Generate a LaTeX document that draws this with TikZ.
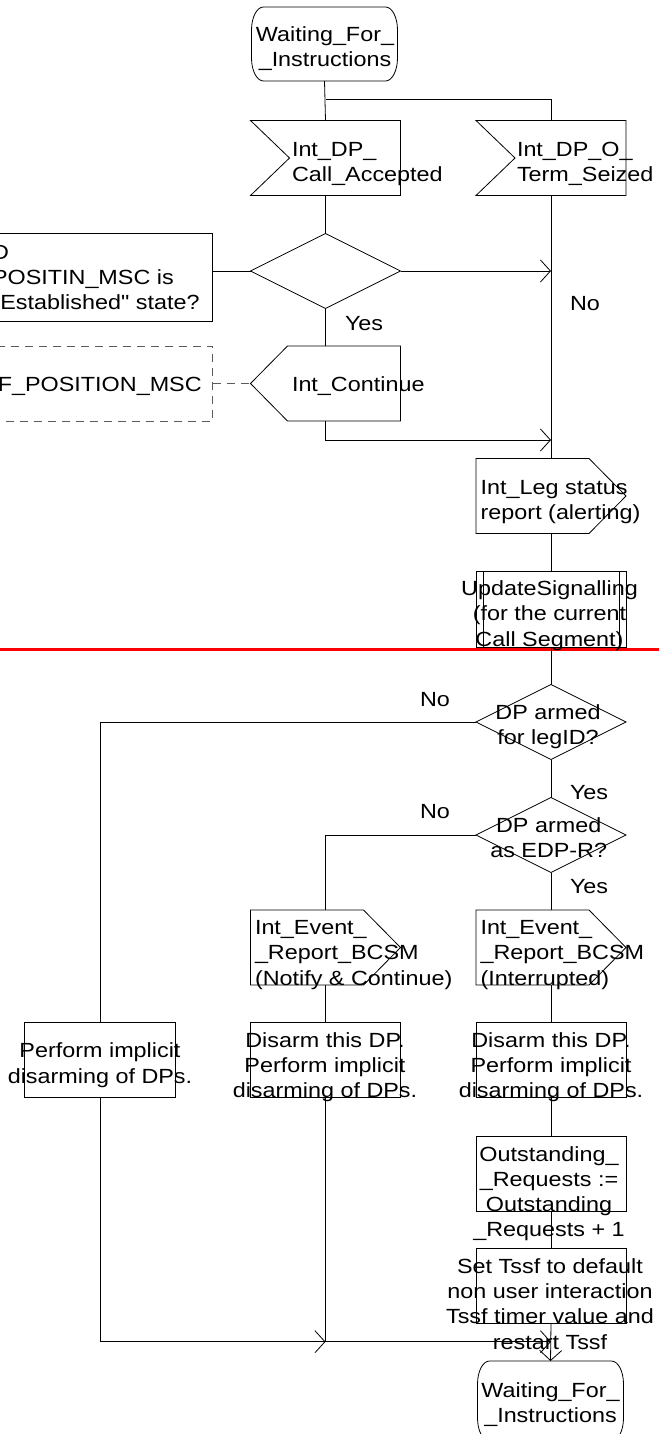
\documentclass[tikz,border=0pt]{standalone}
\usepackage{fontspec}
\setmainfont{Liberation Sans}[FakeStretch=1.14]
% same face without the TeX quote mapping, for straight quotes
\newfontfamily\plainquotes{Liberation Sans}[FakeStretch=1.14]
\usetikzlibrary{arrows.meta}
\definecolor{breakred}{RGB}{255,0,0}
\definecolor{notegray}{RGB}{90,90,90}
% SDL state symbol: flat top and bottom, curved sides
\newcommand\sdlstate[1]{%
  \draw ([xshift=-12pt]#1.north east)
    arc[start angle=90,end angle=0,x radius=12pt,y radius=23pt]
    -- ([yshift=23pt]#1.south east)
    arc[start angle=0,end angle=-90,x radius=12pt,y radius=23pt]
    -- ([xshift=12pt]#1.south west)
    arc[start angle=270,end angle=180,x radius=12pt,y radius=23pt]
    -- ([yshift=-23pt]#1.north west)
    arc[start angle=180,end angle=90,x radius=12pt,y radius=23pt]
    -- cycle;}
\begin{document}
\begin{tikzpicture}[x=1pt,y=-1pt,
  line width=0.8pt,
  font=\fontsize{20.5}{25.3}\selectfont,
  shp/.style={draw=none,inner sep=0pt,outer sep=0pt,minimum width=150pt,minimum height=75pt},
  box/.style={shp,draw},
  state/.style={shp,minimum width=146pt},
  txt/.style={inner sep=0pt,outer sep=0pt},
  arr/.style={-{Straight Barb[length=10pt,width=22pt]}},
  note/.style={draw=notegray,dash pattern=on 8pt off 6pt}]
\useasboundingbox (0,0) rectangle (659,1434);

% ---------- shapes ----------
\node[state,minimum height=74pt] (ws) at (324.5,44) {};
\node[shp] (in1) at (325.5,158) {};
\node[shp] (in2) at (551,158) {};
\node[shp] (d0) at (325.5,271) {};
\node[box,minimum width=263pt,minimum height=88pt] (q) at (81.35,277.2) {};
\node[shp] (out1) at (325.5,383.5) {};
\node[shp,note,minimum width=263pt] (dsh) at (81.35,383.5) {};
\node[shp] (leg) at (551,496) {};
\node[box,minimum height=76pt] (upd) at (551,609) {};
\node[shp] (d1) at (551,722) {};
\node[shp] (d2) at (551,835) {};
\node[shp] (ev1) at (325.5,947.5) {};
\node[shp] (ev2) at (551,947.5) {};
\node[box,minimum width=151pt] (perf) at (100,1060) {};
\node[box] (dis1) at (325.5,1060) {};
\node[box] (dis2) at (551,1060) {};
\node[box] (outs) at (551,1173.5) {};
\node[box] (set) at (551,1286) {};
\node[state,minimum height=80pt] (we) at (550.5,1401) {};

% states
\sdlstate{ws}
\sdlstate{we}
% input signals (notch on the left)
\foreach \n in {in1,in2}
  \draw (\n.north west) -- (\n.north east) -- (\n.south east) -- (\n.south west)
        -- ([xshift=39pt]\n.west) -- cycle;
% output signal pointing left
\draw (out1.west) -- ([xshift=37pt]out1.north west) -- (out1.north east)
      -- (out1.south east) -- ([xshift=37pt]out1.south west) -- cycle;
% output signals pointing right
\foreach \n in {leg,ev1,ev2}
  \draw (\n.north west) -- ([xshift=-37pt]\n.north east) -- (\n.east)
        -- ([xshift=-37pt]\n.south east) -- (\n.south west) -- cycle;
% decisions
\foreach \n in {d0,d1,d2}
  \draw (\n.north) -- (\n.east) -- (\n.south) -- (\n.west) -- cycle;
% procedure call bars
\draw ([xshift=7pt]upd.north west) -- ([xshift=7pt]upd.south west);
\draw ([xshift=-7pt]upd.north east) -- ([xshift=-7pt]upd.south east);

% page break marker
\fill[breakred] (0,648.3) rectangle (659,650.7);

% ---------- texts ----------
\node[txt,align=center] (wst) at (325,48.5) {Waiting\_For\_\\\_Instructions};
\node[txt,align=left,anchor=west] (in1t) at (292,163.9) {Int\_DP\_\\Call\_Accepted};
\node[txt,align=left,anchor=west] (in2t) at (517,163.9) {Int\_DP\_O\_\\Term\_Seized};
\node[txt,align=left,anchor=west] (qt) at (-8,277.5) {D\\POSITIN\_MSC is\\{\plainquotes "Established" state?}};
\node[txt,anchor=base east] (dsht) at (201.7,391.7) {F\_POSITION\_MSC};
\node[txt,anchor=base west] (out1t) at (292,391.7) {Int\_Continue};
\node[txt,anchor=base west] (no0) at (570,310.7) {No};
\node[txt,anchor=base west] (yes0) at (345,330) {Yes};
\node[txt,align=left,anchor=west] (legt) at (480.7,502.2) {Int\_Leg status\\report (alerting)};
\node[txt,align=center] (updt) at (549.5,615.6) {UpdateSignalling\\(for the current\\Call Segment)};
\node[txt,align=center] (d1t) at (548,726.6) {DP armed\\for legID?};
\node[txt,align=center] (d2t) at (548.7,837.5) {DP armed\\as EDP-R?};
\node[txt,anchor=base west] (no1) at (420,706) {No};
\node[txt,anchor=base west] (no2) at (420,818.3) {No};
\node[txt,anchor=base west] (yes1) at (570,799) {Yes};
\node[txt,anchor=base west] (yes2) at (570,893.3) {Yes};
\node[txt,align=left,anchor=west] (ev1t) at (255,954.8) {Int\_Event\_\\\_Report\_BCSM\\(Notify \& Continue)};
\node[txt,align=left,anchor=west] (ev2t) at (480.5,954.8) {Int\_Event\_\\\_Report\_BCSM\\(Interrupted)};
\node[txt,align=center] (perft) at (100,1065.2) {Perform implicit\\disarming of DPs.};
\node[txt,align=center] (dis1t) at (325,1067.2) {Disarm this DP.\\Perform implicit\\disarming of DPs.};
\node[txt,align=center] (dis2t) at (551,1067.2) {Disarm this DP.\\Perform implicit\\disarming of DPs.};
\node[txt,align=center] (outst) at (549,1193.7) {Outstanding\_\\\_Requests :=\\Outstanding\\\_Requests + 1};
\node[txt,align=center] (sett) at (550,1304) {Set Tssf to default\\non user interaction\\Tssf timer value and\\restart Tssf};
\node[txt,align=center] (wet) at (550.5,1404.5) {Waiting\_For\_\\\_Instructions};

% ---------- connectors ----------
\coordinate (br) at (325.5,99);
\coordinate (j1) at (551,440);
\coordinate (mj) at (325.5,1341.7);
\coordinate (rj) at (551,1341.7);

\draw (ws.south) -- (in1.north);
\draw (br) -| (in2.north);
\draw (in1.south) -- (d0.north);
\draw (q.east |- d0.west) -- (d0.west);
\draw[arr] (d0.east) -- (d0.east -| in2.south);
\draw (in2.south) -- (leg.north);
\draw (d0.south) -- (out1.north);
\draw[note] (dsh.east) -- (out1.west);
\draw[arr] (out1.south) |- (j1);
\draw (leg.south) -- (upd.north);
\draw (upd.south) -- (d1.north);
\draw (d1.west) -| (perf.north);
\draw (d1.south) -- (d2.north);
\draw (d2.west) -| (ev1.north);
\draw (d2.south) -- (ev2.north);
\draw (ev1.south) -- (dis1.north);
\draw (ev2.south) -- (dis2.north);
\draw (dis2.south) -- (outs.north);
\draw (outs.south) -- (set.north);
\draw[arr] (perf.south) |- (mj);
\draw (dis1.south) -- (mj);
\draw[arr] (mj) -- (rj);
\draw[arr] (set.south) -- (we.north);
\end{tikzpicture}
\end{document}
